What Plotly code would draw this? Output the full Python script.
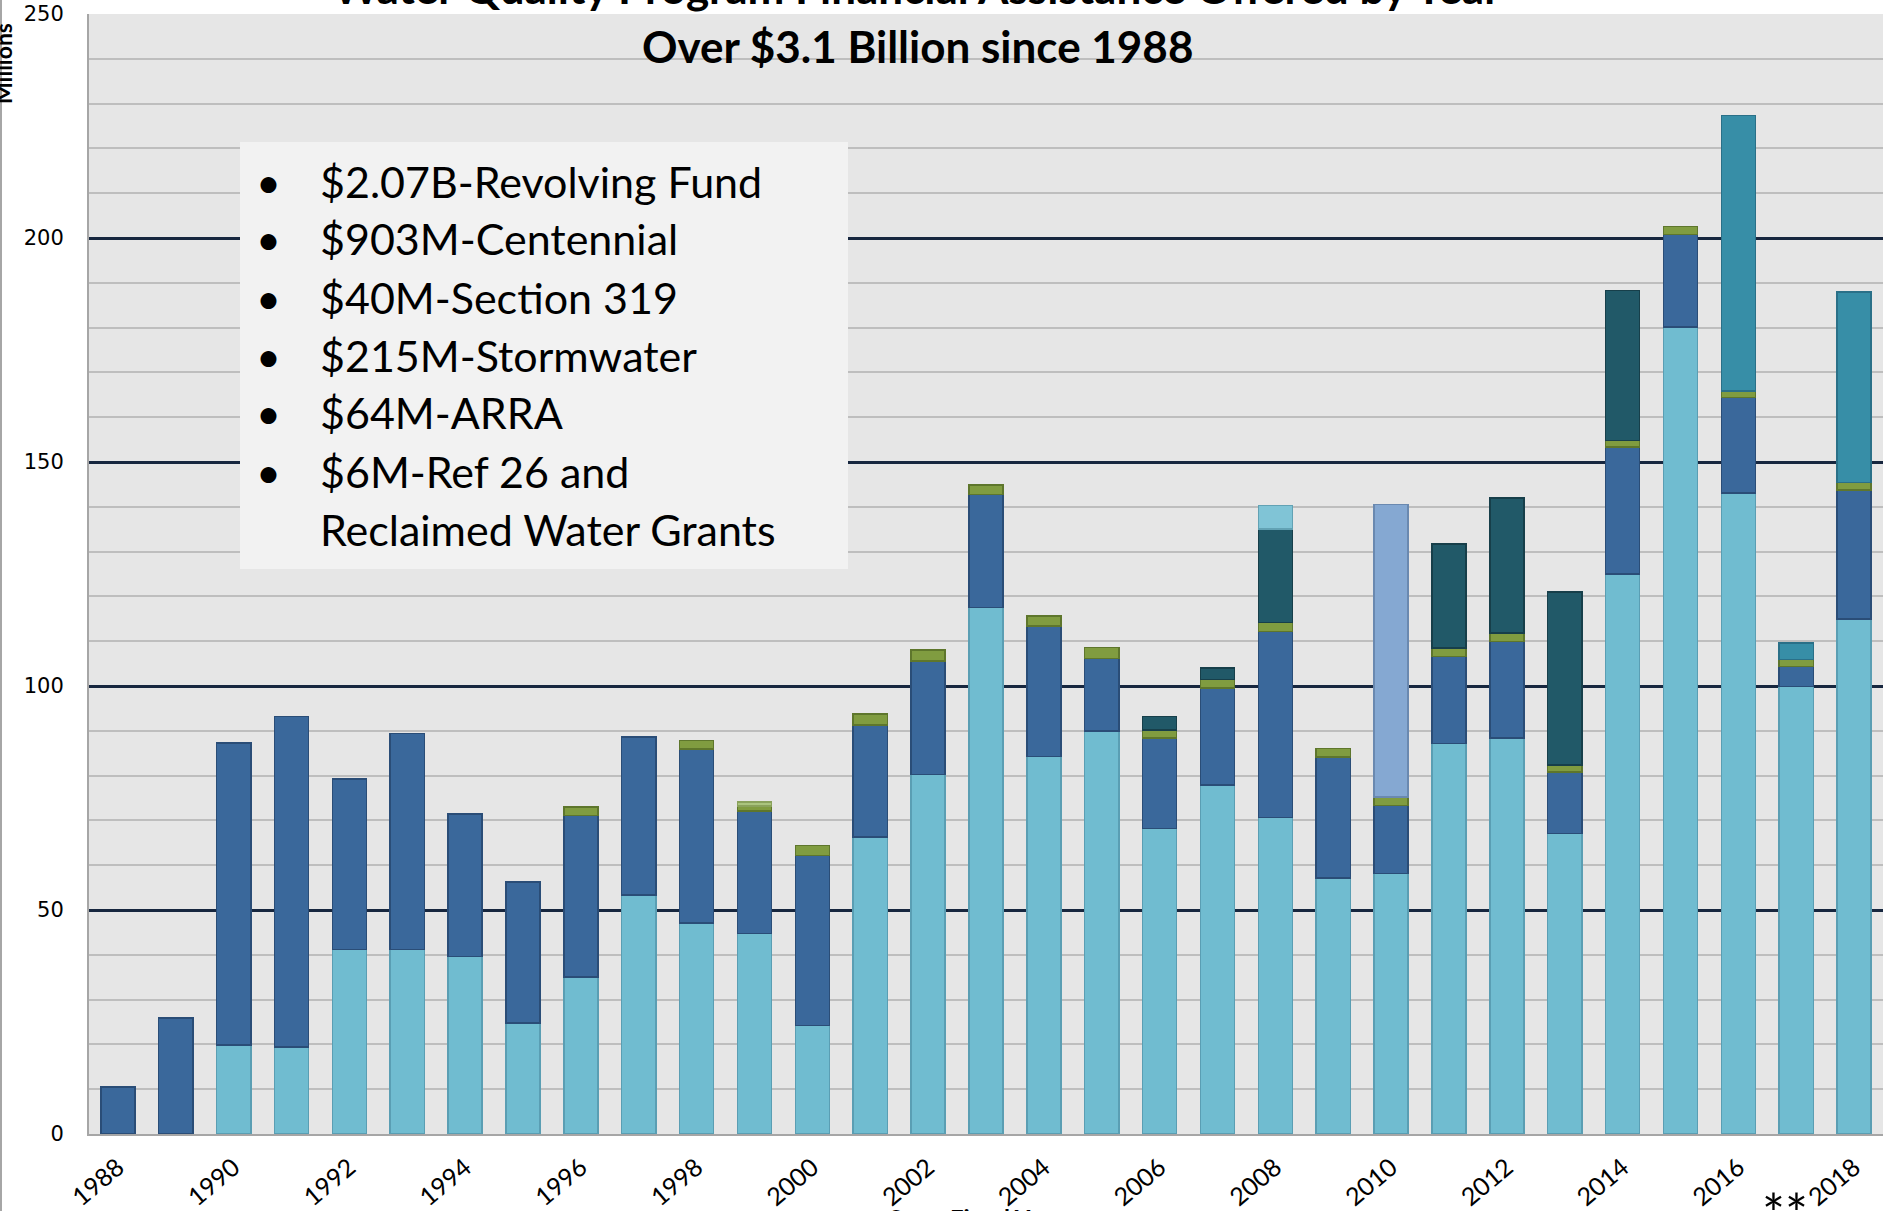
import plotly.graph_objects as go

years = list(range(1988, 2019))
revolving = [None, None, 19.9, 19.4, 41.2, 41.2, 39.6, 24.8, 35.0, 53.3, 47.1, 44.7, 24.2, 66.3, 80.3, 117.5,
             84.3, 90.0, 68.2, 77.9, 70.6, 57.1, 58.2, 87.2, 88.4, 67.1, 125.0, 180.1, 143.1, 99.9, 115.0]
centennial = [10.5, 25.9, 67.4, 73.8, 38.0, 48.2, 31.8, 31.5, 36.1, 35.3, 38.8, 27.4, 38.0, 25.0, 25.3, 25.3,
              29.1, 16.1, 20.2, 21.6, 41.6, 27.0, 15.1, 19.4, 21.5, 13.7, 28.4, 20.7, 21.3, 4.4, 28.8]
section319 = [None, None, None, None, None, None, None, None, 1.9, None, 1.9, 1.1, 2.2, 2.5, 2.4, 2.1,
              2.2, 2.5, 1.8, 1.9, 2.0, 2.0, 1.9, 1.9, 1.9, 1.6, 1.4, 1.8, 1.4, 1.6, 1.6]
ref26 = [None] * 11 + [0.9] + [None] * 19
stormwater = [None] * 18 + [3.0, 2.6, 20.8, None, None, 23.2, 30.2, 38.6, 33.5, None, None, None, None]
reclaimed = [None] * 20 + [5.3] + [None] * 10
arra = [None] * 22 + [65.3] + [None] * 8
stormwater2 = [None] * 28 + [61.5, 3.7, 42.6]

tick_years = list(range(1988, 2019, 2))
tick_text = [str(y) for y in tick_years]

legend_lines = ["$2.07B-Revolving Fund", "$903M-Centennial", "$40M-Section 319",
                "$215M-Stormwater", "$64M-ARRA", "$6M-Ref 26 and", "Reclaimed Water Grants"]

title1 = "Water Quality Program Financial Assistance Offered by Year"
title2 = "Over $3.1 Billion since 1988"

series = [
    ("Revolving Fund", revolving, "#70BCD0", "#5A9EB3"),
    ("Centennial", centennial, "#3A689B", "#2A4D77"),
    ("Section 319", section319, "#809C40", "#5E762C"),
    ("Ref 26", ref26, "#AAC47E", "#8AA25C"),
    ("Stormwater", stormwater, "#215968", "#173F4A"),
    ("Reclaimed Water", reclaimed, "#80C4D6", "#62A2B4"),
    ("ARRA", arra, "#85A8D2", "#6A89B0"),
    ("Stormwater FAP", stormwater2, "#378EA7", "#2A7088"),
]

fig = go.Figure()
for name, vals, col, lcol in series:
    fig.add_trace(go.Bar(x=years, y=vals, name=name, marker=dict(color=col, line=dict(color=lcol, width=1.5)),
                         hoverinfo="x+y+name"))

# pixel geometry helpers
L, R, T, B = 89, 9, 14, 77
W, H = 1892, 1211
PW, PH = W - L - R, H - T - B


def px(x):
    return (x - L) / PW


def py(y):
    return (H - B - y) / PH


fig.update_layout(
    width=W, height=H,
    margin=dict(l=L, r=R, t=T, b=B, pad=0, autoexpand=False),
    barmode="stack", bargap=0.41,
    showlegend=False,
    plot_bgcolor="#E6E6E6", paper_bgcolor="white",
    xaxis=dict(range=[1987.5, 2018.5], tickvals=tick_years, ticktext=tick_text, tickangle=-40,
               tickfont=dict(family="Lato", size=25, color="black"), showgrid=False, automargin=False,
               showline=True, linecolor="#A6A6A6", linewidth=2, ticks="", ticklabelstandoff=7,
               zeroline=False),
    yaxis=dict(range=[0, 250], dtick=50, tick0=0, tickfont=dict(family="DejaVu Sans", size=21, color="black"),
               showgrid=True, gridcolor="#17273F", gridwidth=2.5, automargin=False,
               minor=dict(dtick=10, showgrid=True, gridcolor="#BEBEBE", gridwidth=2),
               showline=True, linecolor="#A6A6A6", linewidth=2, ticks="", ticklabelstandoff=19,
               zeroline=False),
)

shapes = [
    dict(type="rect", xref="paper", yref="paper", x0=px(240), x1=px(848), y0=py(569), y1=py(142),
         fillcolor="#F2F2F2", line=dict(width=0), layer="above"),
    dict(type="line", xref="paper", yref="paper", x0=px(1), x1=px(1), y0=py(H), y1=py(0),
         line=dict(color="#A6A6A6", width=2)),
]
fig.update_layout(shapes=shapes)

ann = []
ann.append(dict(text="<b>" + title1 + "</b>", x=px(917), y=py(-13), xref="paper", yref="paper",
                xanchor="center", yanchor="middle", showarrow=False,
                font=dict(family="Lato", size=44, color="black")))
ann.append(dict(text="<b>" + title2 + "</b>", x=px(917), y=py(46), xref="paper", yref="paper",
                xanchor="center", yanchor="middle", showarrow=False,
                font=dict(family="Lato", size=44, color="black")))
for i, line in enumerate(legend_lines):
    base = 199 + 58 * i
    ann.append(dict(text=line, x=px(318), y=py(base - 18), xref="paper", yref="paper",
                    xanchor="left", yanchor="middle", showarrow=False,
                    font=dict(family="Lato", size=43, color="black")))
    if i < 6:
        ann.append(dict(text="•", x=px(268), y=py(base - 18), xref="paper", yref="paper",
                        xanchor="center", yanchor="middle", showarrow=False,
                        font=dict(family="Lato", size=43, color="black")))
ann.append(dict(text="**", x=px(1785), y=py(1212), xref="paper", yref="paper",
                xanchor="center", yanchor="middle", showarrow=False,
                font=dict(family="Lato", size=54, color="black")))
ann.append(dict(text="<b>Millions</b>", x=px(3), y=py(64), xref="paper", yref="paper", textangle=-90,
                xanchor="center", yanchor="middle", showarrow=False,
                font=dict(family="Lato", size=23, color="black")))
ann.append(dict(text="<b>State Fiscal Year</b>", x=px(975), y=py(1218), xref="paper", yref="paper",
                xanchor="center", yanchor="middle", showarrow=False,
                font=dict(family="Lato", size=24, color="black")))
fig.update_layout(annotations=ann)

fig.write_html("out.html", config={"displayModeBar": False},
               post_script="document.body.style.margin='0';document.body.style.overflow='hidden';")
